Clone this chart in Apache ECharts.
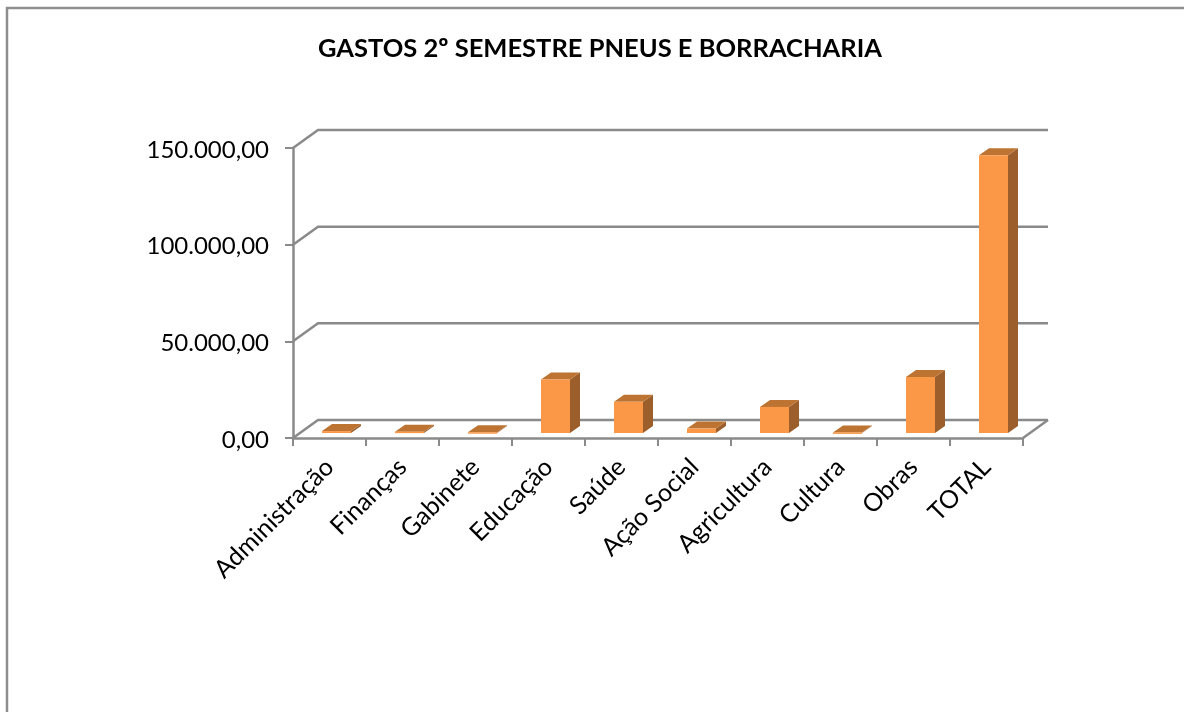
<!DOCTYPE html>
<html>
<head>
<meta charset="utf-8">
<style>html,body{margin:0;padding:0;background:#fff}#chart{width:1184px;height:712px}</style>
<script src="https://cdn.jsdelivr.net/npm/echarts@6/dist/echarts.min.js"></script>
</head>
<body>
<div id="chart"></div>
<script>
var categories = ['Administração', 'Finanças', 'Gabinete', 'Educação', 'Saúde', 'Ação Social', 'Agricultura', 'Cultura', 'Obras', 'TOTAL'];
var gastos = [1000, 700, 400, 27700, 16100, 2300, 13500, 300, 29000, 143600];
var yTicks = [0, 50000, 100000, 150000];

// fake 3D depth, in pixels
var wallX = 25, wallY = -18;
var barShiftX = 7, barShiftY = -5;
var barDepthX = 10, barDepthY = -7;
var barWidth = 29;
var lineGray = '#8A8A8A';

var myChart = echarts.init(document.getElementById('chart'));

function fmtValor(v) {
    return v.toLocaleString('pt-BR', {minimumFractionDigits: 2, maximumFractionDigits: 2});
}

function renderWall(params, api) {
    var y = api.coord([0, api.value(0)])[1];
    var left = params.coordSys.x, right = left + params.coordSys.width;
    return {
        type: 'polyline',
        shape: {points: [[left, y], [left + wallX, y + wallY], [right + wallX, y + wallY]]},
        style: {stroke: lineGray, lineWidth: 2.5, fill: null}
    };
}

function renderFloorEdge(params, api) {
    var y = api.coord([0, 0])[1];
    var right = params.coordSys.x + params.coordSys.width;
    return {
        type: 'line',
        shape: {x1: right, y1: y, x2: right + wallX, y2: y + wallY},
        style: {stroke: lineGray, lineWidth: 2.5}
    };
}

function renderBar(params, api) {
    var top = api.coord([api.value(0), api.value(1)]);
    var base = api.coord([api.value(0), 0]);
    var l = top[0] + barShiftX - barWidth / 2, r = l + barWidth;
    var t = top[1] + barShiftY, b = base[1] + barShiftY;
    return {
        type: 'group',
        children: [
            {type: 'polygon', shape: {points: [[r, t], [r + barDepthX, t + barDepthY], [r + barDepthX, b + barDepthY], [r, b]]},
                style: {fill: '#9C5F2B'}},
            {type: 'polygon', shape: {points: [[l, t], [l + barDepthX, t + barDepthY], [r + barDepthX, t + barDepthY], [r, t]]},
                style: {fill: '#BD7433'}},
            {type: 'rect', shape: {x: l, y: t, width: barWidth, height: Math.max(b - t, 1.5)},
                style: {fill: '#FA9848'}}
        ]
    };
}

var option = {
    animation: false,
    backgroundColor: '#fff',
    textStyle: {fontFamily: 'Lato'},
    title: {
        text: 'GASTOS 2º SEMESTRE PNEUS E BORRACHARIA',
        left: 595,
        top: 31,
        textAlign: 'center',
        textStyle: {fontFamily: 'Lato', fontSize: 25.5, fontWeight: 'bold', color: '#000'}
    },
    graphic: [{
        type: 'polyline',
        shape: {points: [[7, 720], [7, 8], [1190, 8]]},
        style: {stroke: '#8E8E8E', lineWidth: 2.5, fill: null}
    }],
    grid: {left: 293, top: 148, width: 730, height: 290, containLabel: false},
    xAxis: {
        type: 'category',
        data: categories,
        axisLine: {lineStyle: {color: lineGray, width: 2.5}},
        axisTick: {show: true, alignWithLabel: false, length: 8, lineStyle: {color: lineGray, width: 2}},
        axisLabel: {rotate: 45, interval: 0, margin: 25, fontSize: 25, color: '#000', fontFamily: 'Lato'}
    },
    yAxis: {
        type: 'value',
        min: 0,
        max: 150000,
        interval: 50000,
        splitLine: {show: false},
        axisLine: {show: true, lineStyle: {color: lineGray, width: 2.5}},
        axisTick: {show: true, length: 8, lineStyle: {color: lineGray, width: 2}},
        axisLabel: {margin: 24, fontSize: 24, color: '#000', fontFamily: 'Lato', verticalAlign: 'top', lineHeight: 4, formatter: fmtValor}
    },
    series: [
        {type: 'custom', renderItem: renderWall, data: yTicks, encode: {y: 0}, silent: true, z: 1},
        {type: 'custom', renderItem: renderFloorEdge, data: [0], encode: {y: 0}, silent: true, z: 1},
        {type: 'custom', name: 'Gastos', renderItem: renderBar,
            data: gastos.map(function (v, i) { return [i, v]; }), encode: {x: 0, y: 1}, z: 5}
    ]
};

myChart.setOption(option);
</script>
</body>
</html>
